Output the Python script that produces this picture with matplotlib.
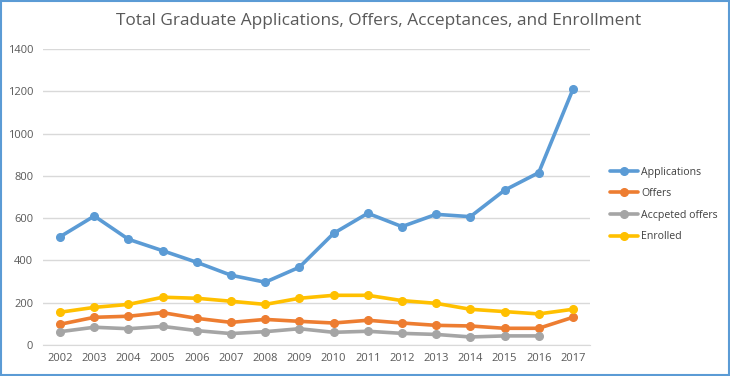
import matplotlib.pyplot as plt
from matplotlib.patches import Rectangle

years = [str(y) for y in range(2002, 2018)]
applications = [512, 610, 500, 446, 391, 330, 297, 368, 528, 623, 560, 618, 607, 732, 815, 1209]
offers = [98, 131, 136, 153, 126, 107, 121, 112, 104, 117, 104, 93, 90, 79, 79, 131]
accepted = [63, 84, 77, 88, 68, 54, 63, 77, 60, 65, 55, 50, 38, 43, 43]
enrolled = [155, 178, 192, 226, 221, 207, 192, 221, 235, 235, 210, 197, 169, 158, 147, 169]

plt.rcParams['font.family'] = ['Open Sans', 'DejaVu Sans']

fig = plt.figure(figsize=(7.3, 3.76), dpi=100)
ax = fig.add_axes([43 / 730, 1 - 345 / 376, 547 / 730, 296 / 376])

x = list(range(len(years)))
series = [
    (applications, '#5B9BD5', 'Applications'),
    (offers, '#ED7D31', 'Offers'),
    (accepted, '#A5A5A5', 'Accpeted offers'),
    (enrolled, '#FFC000', 'Enrolled'),
]
for vals, col, lab in series:
    ax.plot(x[:len(vals)], vals, color=col, lw=2.6, marker='o', ms=5.5,
            label=lab, solid_capstyle='round')

ax.set_xlim(-0.5, len(years) - 0.5)
ax.set_ylim(0, 1400)
ax.set_yticks(range(0, 1401, 200))
ax.set_xticks(x)
ax.set_xticklabels(years)
ax.grid(axis='y', color='#D9D9D9', lw=1)
ax.set_axisbelow(True)
for s in ['top', 'right', 'left']:
    ax.spines[s].set_visible(False)
ax.spines['bottom'].set_color('#D9D9D9')
ax.tick_params(length=0, labelsize=8, colors='#595959', pad=6)
ax.tick_params(axis='y', pad=7)

fig.text(0.518, 0.945, 'Total Graduate Applications, Offers, Acceptances, and Enrollment',
         ha='center', va='center', fontsize=12.4, color='#595959')

leg = ax.legend(loc='center left', bbox_to_anchor=(1.02, 0.475), frameon=False,
                fontsize=7.6, labelcolor='#404040', handlelength=2.6,
                labelspacing=1.0, handletextpad=0.3)

fig.patches.append(Rectangle((0.001, 0.003), 0.997, 0.994, transform=fig.transFigure,
                             fill=False, edgecolor='#5B9BD5', lw=1.5))

fig.savefig('out.png', dpi=100)
